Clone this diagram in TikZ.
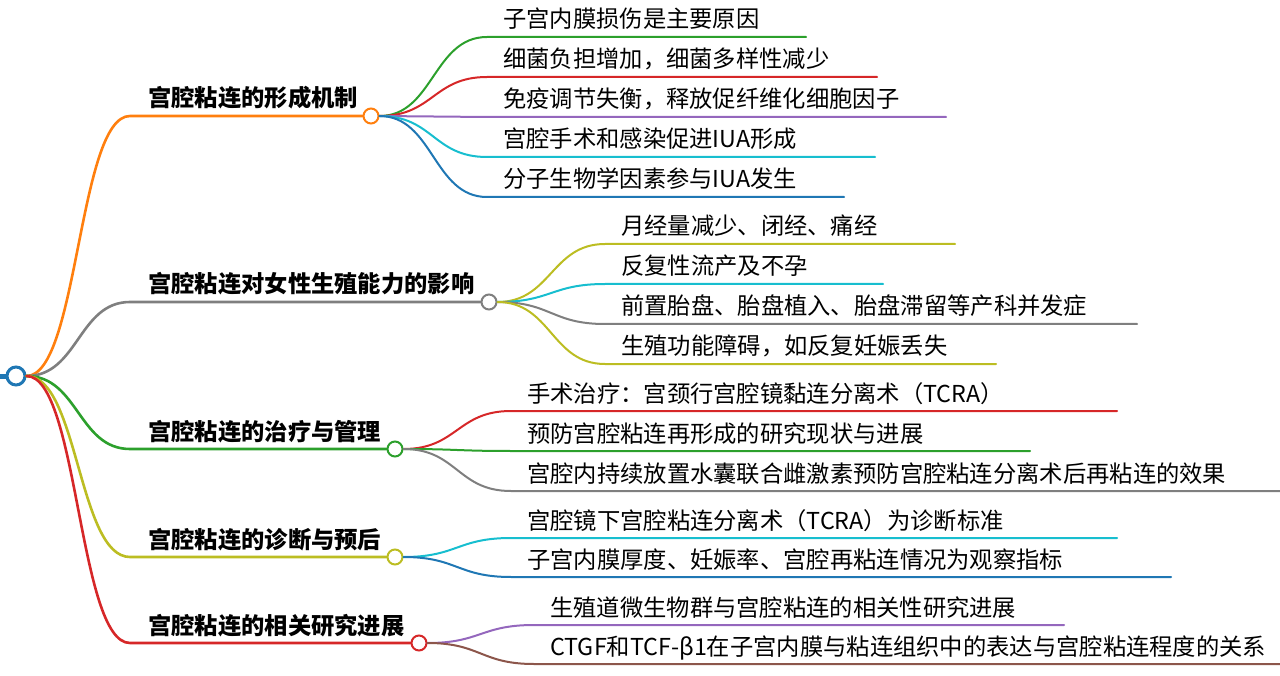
\documentclass[tikz,border=0pt]{standalone}
\usepackage{fontspec}
\setmainfont{Noto Sans CJK SC}
\usepackage{xcolor}
\usetikzlibrary{calc}

\definecolor{mmblue}{HTML}{1F77B4}
\definecolor{mmorange}{HTML}{FF7F0E}
\definecolor{mmgreen}{HTML}{2CA02C}
\definecolor{mmred}{HTML}{D62728}
\definecolor{mmpurple}{HTML}{9467BD}
\definecolor{mmbrown}{HTML}{8C564B}
\definecolor{mmgray}{HTML}{7F7F7F}
\definecolor{mmolive}{HTML}{BCBD22}
\definecolor{mmcyan}{HTML}{17BECF}

\newcommand{\mmfont}{\fontsize{23.3}{24}\selectfont}

% curved link from a node to the start of an underline, then along it
\newcommand{\mmlink}[4]{%
  \draw[#1] let \p1=(#2), \p2=(#3) in
    (\p1) .. controls ({(\x1+\x2)/2},\y1) and ({(\x1+\x2)/2},\y2) .. (\p2) -- (#4);}

\tikzset{
  knot/.style={circle, draw=#1, fill=white, line width=2pt, minimum size=15pt, inner sep=0pt},
  topic/.style={anchor=base west, inner sep=0pt, font=\mmfont\bfseries},
  leaf/.style={anchor=base west, inner sep=0pt, font=\mmfont},
  mainlink/.style={line width=2.6pt, line cap=round},
  leaflink/.style={line width=2pt, line cap=round}
}

\begin{document}
\begin{tikzpicture}[x=1pt, y=-1pt]
  \useasboundingbox (0,0) rectangle (1280,676);

  % Root
  \coordinate (stub) at (0,376);
  \node[knot=mmblue, line width=3pt, minimum size=18pt] (root) at (16,376) {};
  \draw[mmblue, line width=5pt] (stub) -- (root.west);

  % Topic circles
  \node[knot=mmorange] (k1) at (371,116) {};
  \node[knot=mmgray]   (k2) at (489,302) {};
  \node[knot=mmgreen]  (k3) at (395,449) {};
  \node[knot=mmolive]  (k4) at (395,557) {};
  \node[knot=mmred]    (k5) at (419,643) {};

  % Topics
  \coordinate (t1s) at (130,116);
  \coordinate (t2s) at (130,302);
  \coordinate (t3s) at (130,449);
  \coordinate (t4s) at (130,557);
  \coordinate (t5s) at (130,643);
  \mmlink{mainlink,mmorange}{root.east}{t1s}{k1.west}
  \mmlink{mainlink,mmgray}{root.east}{t2s}{k2.west}
  \mmlink{mainlink,mmgreen}{root.east}{t3s}{k3.west}
  \mmlink{mainlink,mmolive}{root.east}{t4s}{k4.west}
  \mmlink{mainlink,mmred}{root.east}{t5s}{k5.west}
  \node[topic] (t1) at (148,107) {宫腔粘连的形成机制};
  \node[topic] (t2) at (148,293) {宫腔粘连对女性生殖能力的影响};
  \node[topic] (t3) at (148,440) {宫腔粘连的治疗与管理};
  \node[topic] (t4) at (148,548) {宫腔粘连的诊断与预后};
  \node[topic] (t5) at (148,634) {宫腔粘连的相关研究进展};

  % Formation mechanism
  \coordinate (a1s) at (487,37);  \coordinate (a1e) at (806,37);
  \coordinate (a2s) at (487,77);  \coordinate (a2e) at (877,77);
  \coordinate (a3s) at (487,117); \coordinate (a3e) at (946,117);
  \coordinate (a4s) at (487,157); \coordinate (a4e) at (875,157);
  \coordinate (a5s) at (487,197); \coordinate (a5e) at (844,197);
  \mmlink{leaflink,mmgreen}{k1.east}{a1s}{a1e}
  \mmlink{leaflink,mmred}{k1.east}{a2s}{a2e}
  \mmlink{leaflink,mmpurple}{k1.east}{a3s}{a3e}
  \mmlink{leaflink,mmcyan}{k1.east}{a4s}{a4e}
  \mmlink{leaflink,mmblue}{k1.east}{a5s}{a5e}
  \node[leaf] (a1) at (503,28)  {子宫内膜损伤是主要原因};
  \node[leaf] (a2) at (503,68)  {细菌负担增加，细菌多样性减少};
  \node[leaf] (a3) at (503,108) {免疫调节失衡，释放促纤维化细胞因子};
  \node[leaf] (a4) at (503,148) {宫腔手术和感染促进IUA形成};
  \node[leaf] (a5) at (503,188) {分子生物学因素参与IUA发生};

  % Fertility
  \coordinate (b1s) at (605,244); \coordinate (b1e) at (955,244);
  \coordinate (b2s) at (605,284); \coordinate (b2e) at (883,284);
  \coordinate (b3s) at (605,324); \coordinate (b3e) at (1137,324);
  \coordinate (b4s) at (605,364); \coordinate (b4e) at (996,364);
  \mmlink{leaflink,mmolive}{k2.east}{b1s}{b1e}
  \mmlink{leaflink,mmcyan}{k2.east}{b2s}{b2e}
  \mmlink{leaflink,mmgray}{k2.east}{b3s}{b3e}
  \mmlink{leaflink,mmolive}{k2.east}{b4s}{b4e}
  \node[leaf] (b1) at (621,235) {月经量减少、闭经、痛经};
  \node[leaf] (b2) at (621,275) {反复性流产及不孕};
  \node[leaf] (b3) at (621,315) {前置胎盘、胎盘植入、胎盘滞留等产科并发症};
  \node[leaf] (b4) at (621,355) {生殖功能障碍，如反复妊娠丢失};

  % Treatment
  \coordinate (c1s) at (511,411); \coordinate (c1e) at (1117,411);
  \coordinate (c2s) at (511,451); \coordinate (c2e) at (1030,451);
  \coordinate (c3s) at (511,491); \coordinate (c3e) at (1280,491);
  \mmlink{leaflink,mmred}{k3.east}{c1s}{c1e}
  \mmlink{leaflink,mmgreen}{k3.east}{c2s}{c2e}
  \mmlink{leaflink,mmgray}{k3.east}{c3s}{c3e}
  \node[leaf] (c1) at (527,402) {手术治疗：宫颈行宫腔镜黏连分离术（TCRA）};
  \node[leaf] (c2) at (527,442) {预防宫腔粘连再形成的研究现状与进展};
  \node[leaf] (c3) at (527,482) {宫腔内持续放置水囊联合雌激素预防宫腔粘连分离术后再粘连的效果};

  % Diagnosis
  \coordinate (d1s) at (511,538); \coordinate (d1e) at (1117,538);
  \coordinate (d2s) at (511,577); \coordinate (d2e) at (1171,577);
  \mmlink{leaflink,mmcyan}{k4.east}{d1s}{d1e}
  \mmlink{leaflink,mmblue}{k4.east}{d2s}{d2e}
  \node[leaf] (d1) at (527,529) {宫腔镜下宫腔粘连分离术（TCRA）为诊断标准};
  \node[leaf] (d2) at (527,568) {子宫内膜厚度、妊娠率、宫腔再粘连情况为观察指标};

  % Research
  \coordinate (e1s) at (534,625); \coordinate (e1e) at (1064,625);
  \coordinate (e2s) at (534,664); \coordinate (e2e) at (1280,664);
  \mmlink{leaflink,mmpurple}{k5.east}{e1s}{e1e}
  \mmlink{leaflink,mmbrown}{k5.east}{e2s}{e2e}
  \node[leaf] (e1) at (550,616) {生殖道微生物群与宫腔粘连的相关性研究进展};
  \node[leaf] (e2) at (550,655) {CTGF和TCF-β1在子宫内膜与粘连组织中的表达与宫腔粘连程度的关系};

\end{tikzpicture}
\end{document}
